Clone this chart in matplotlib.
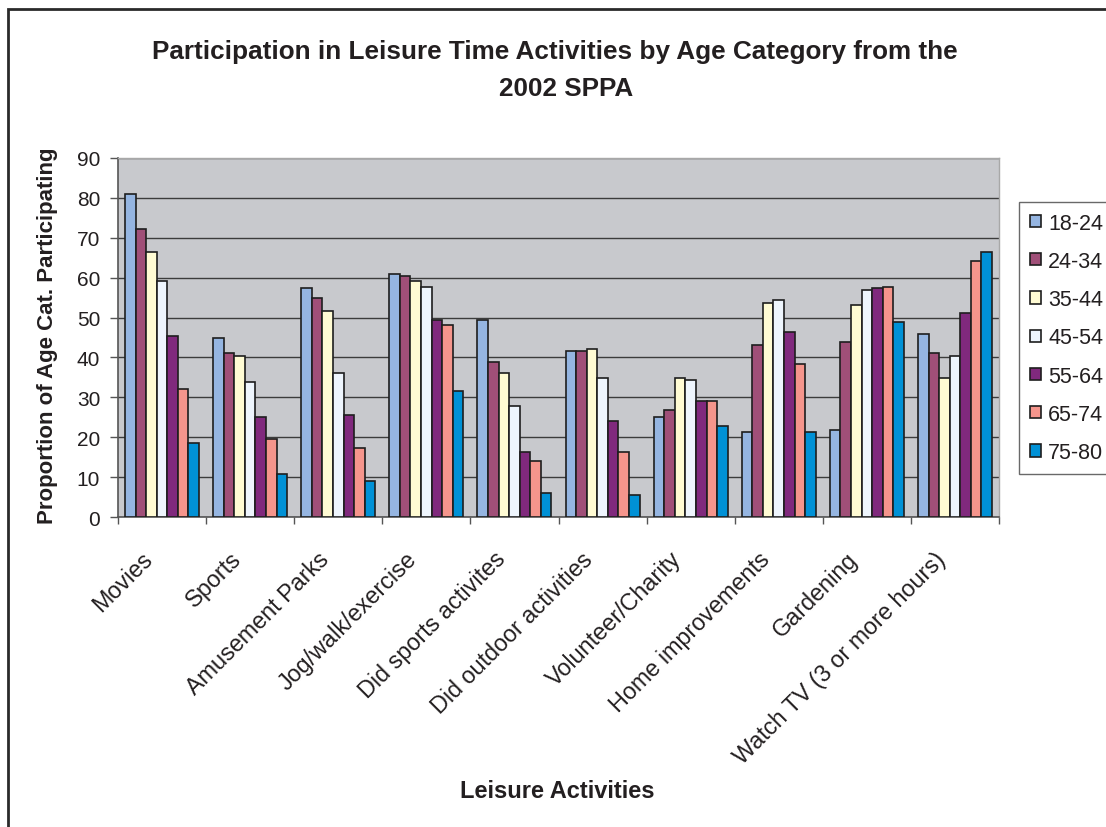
import matplotlib
matplotlib.use("Agg")
import matplotlib.pyplot as plt
import numpy as np
from matplotlib.patches import Rectangle
from matplotlib.transforms import blended_transform_factory, ScaledTranslation

categories = ["Movies", "Sports", "Amusement Parks", "Jog/walk/exercise",
              "Did sports activites", "Did outdoor activities", "Volunteer/Charity",
              "Home improvements", "Gardening", "Watch TV (3 or more hours)"]
age_groups = ["18-24", "24-34", "35-44", "45-54", "55-64", "65-74", "75-80"]

v_18_24 = [81.0, 44.9, 57.4, 60.9, 49.4, 41.7, 25.1, 21.2, 21.7, 45.9]
v_24_34 = [72.2, 41.2, 54.9, 60.4, 38.9, 41.7, 26.8, 43.1, 43.9, 41.2]
v_35_44 = [66.4, 40.4, 51.6, 59.1, 36.1, 42.1, 34.8, 53.6, 53.2, 34.8]
v_45_54 = [59.1, 33.8, 36.2, 57.7, 27.8, 34.8, 34.3, 54.4, 56.9, 40.4]
v_55_64 = [45.4, 25.1, 25.6, 49.4, 16.3, 24.0, 29.2, 46.4, 57.4, 51.1]
v_65_74 = [32.1, 19.5, 17.3, 48.1, 14.0, 16.3, 29.2, 38.3, 57.7, 64.1]
v_75_80 = [18.5, 10.8, 8.9, 31.6, 6.0, 5.5, 22.9, 21.2, 48.9, 66.4]
series = [v_18_24, v_24_34, v_35_44, v_45_54, v_55_64, v_65_74, v_75_80]

colors = ["#95B5E1", "#A04F78", "#FFFBD3", "#EEF5FD", "#80297D", "#F5958C", "#0091D6"]
txt = "#231F20"
FONT = "Liberation Sans"

W, H = 1106, 828
fig = plt.figure(figsize=(W / 100, H / 100), dpi=100)
fig.patch.set_facecolor("white")

ax = fig.add_axes([118 / W, 1 - 518 / H, (999 - 118) / W, (518 - 159) / H])
ax.set_facecolor("#C8C9CD")

x = np.arange(len(categories))
bw = 0.12
for i, (vals, col, lab) in enumerate(zip(series, colors, age_groups)):
    ax.bar(x + (i - 3) * bw, vals, width=bw, color=col, edgecolor="#1E1E1E",
           linewidth=1.2, label=lab, zorder=3)

ax.set_xlim(-0.5, len(categories) - 0.5)
ax.set_ylim(0, 90)
ax.set_yticks(np.arange(0, 91, 10))
ax.yaxis.grid(True, color="#3C3C3C", linewidth=1.0, zorder=1)
ax.set_axisbelow(True)

ax.set_xticks(np.arange(-0.5, len(categories), 1.0))
ax.set_xticklabels([])
ax.tick_params(axis="x", which="major", length=5, width=1, color="#555555", direction="out")
ax.tick_params(axis="y", length=5.8, width=1, color="#555555", pad=7, labelsize=15,
               labelcolor=txt)
for lbl in ax.get_yticklabels():
    lbl.set_fontfamily(FONT)

# rotated category labels
base = blended_transform_factory(ax.transData, ax.transAxes)
off = ScaledTranslation(-21 / 100, -30 / 100, fig.dpi_scale_trans)
for xi, name in zip(x, categories):
    ax.text(xi, 0, name, transform=base + off, rotation=45, rotation_mode="anchor",
            ha="right", va="top", fontsize=16.8, color=txt, fontfamily=FONT,
            clip_on=False)

for s in ["left", "bottom"]:
    ax.spines[s].set_color("#555555")
    ax.spines[s].set_linewidth(1.2)
for s in ["top", "right"]:
    ax.spines[s].set_color("#A8A8A8")
    ax.spines[s].set_linewidth(1.0)

fig.text(555 / W, 1 - 59 / H, "Participation in Leisure Time Activities by Age Category from the",
         ha="center", va="baseline", fontsize=18.8, fontweight="bold", color=txt,
         fontfamily=FONT)
fig.text(566 / W, 1 - 96 / H, "2002 SPPA",
         ha="center", va="baseline", fontsize=18.8, fontweight="bold", color=txt,
         fontfamily=FONT)

fig.text(48 / W, 1 - 336 / H, "Proportion of Age Cat. Participating", rotation=90,
         ha="center", va="center", fontsize=16, fontweight="bold", color=txt,
         fontfamily=FONT)
fig.text(557 / W, 1 - 792 / H, "Leisure Activities", ha="center", va="center",
         fontsize=17, fontweight="bold", color=txt, fontfamily=FONT)

leg = ax.legend(loc="upper left", bbox_to_anchor=(1019 / W, 1 - 203 / H),
                bbox_transform=fig.transFigure, borderaxespad=0, frameon=True,
                fancybox=False, edgecolor="#444444",
                handlelength=0.5, handleheight=0.5, handletextpad=0.35,
                labelspacing=0.8, borderpad=0.5,
                prop={"family": FONT, "size": 15.5})
leg.get_frame().set_linewidth(1.0)
for t in leg.get_texts():
    t.set_color(txt)

fig.add_artist(Rectangle((8 / W, -0.5), 2.0, 1.5 - 10 / H, transform=fig.transFigure,
                         fill=False, edgecolor="#2A2A2A", linewidth=2.0))

fig.savefig("out.png", dpi=100)
